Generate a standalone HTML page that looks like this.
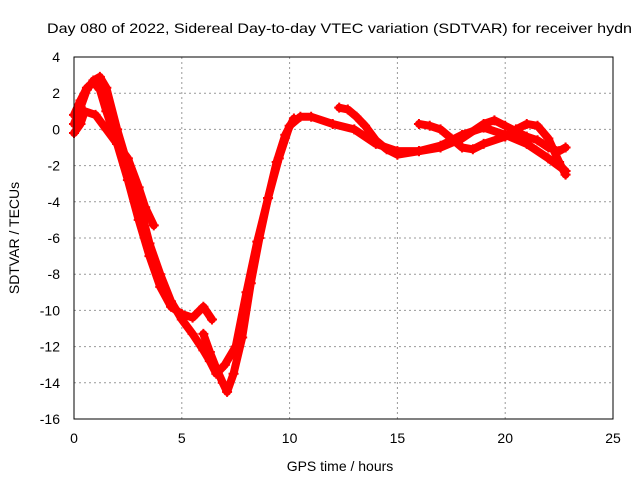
<!DOCTYPE html>
<html><head><meta charset="utf-8"><style>
body{margin:0;background:#fff}
svg{display:block;font-family:"Liberation Sans",sans-serif;font-size:14px}
</style></head><body>
<svg id="c" width="640" height="480">
<text x="47" y="33" textLength="585" lengthAdjust="spacingAndGlyphs">Day 080 of 2022, Sidereal Day-to-day VTEC variation (SDTVAR) for receiver hydn</text>
<text x="340" y="471" text-anchor="middle">GPS time / hours</text>
<text transform="translate(19,238) rotate(-90)" text-anchor="middle">SDTVAR / TECUs</text>
<g id="grid"></g><g id="ticks"></g><g id="marks"></g>
<rect x="74" y="57" width="539" height="362" fill="none" stroke="#000"/>
</svg>
<script>
const xTicks=[0,5,10,15,20,25];
const yTicks=[4,2,0,-2,-4,-6,-8,-10,-12,-14,-16];
const trackAHours=[0,0.3,0.6,0.9,1.2,1.5,2,2.5,3,3.5,4,4.5,5,5.5,6,6.3,6.6,7,7.5,8,8.5,9,9.5,10,10.5,11,12,13,14,15,16,17,18,19,20,21,22,22.8];
const trackAValues=[0.3,1.2,2.2,2.7,2.9,2.3,0,-2,-4,-6.3,-8,-9.5,-10.5,-11.3,-12.2,-12.8,-13.5,-13,-12,-9,-6.2,-3.8,-1.6,0.2,0.7,0.7,0.3,0,-0.8,-1.2,-1.2,-0.9,-0.3,0.1,-0.3,-0.8,-1.6,-2.3];
const trackBHours=[0,0.3,0.6,0.9,1.2,1.5,2,2.5,3,3.5,4,4.5,5,5.5,6,6.4];
const trackBValues=[0.8,1.6,2.3,2.6,2.2,1,-0.8,-2.8,-5,-7,-8.7,-9.8,-10.2,-10.4,-9.8,-10.5];
const trackCHours=[0,0.3,0.5,1,1.5,2,2.5,3,3.3,3.7];
const trackCValues=[-0.2,0.3,1,0.8,0,-0.8,-1.6,-3.2,-4.3,-5.3];
const trackDHours=[6,6.3,6.6,6.9,7.1,7.4,7.8,8.2,8.6,9,9.4,9.8,10.2];
const trackDValues=[-11.3,-12.3,-13.2,-14,-14.5,-13.5,-11.5,-8.5,-6,-3.8,-1.8,-0.3,0.6];
const trackEHours=[12.3,12.7,13.1,13.5,14,14.5,15,16,17,18,19,19.5,20,21,21.5,22,22.5,22.8];
const trackEValues=[1.2,1.1,0.7,0.2,-0.6,-1.1,-1.4,-1.2,-1.0,-0.5,0.3,0.5,0.2,-0.4,-0.6,-1,-1.2,-1];
const trackFHours=[16,16.5,17,17.5,18,18.5,19,20,20.5,21,21.5,22,22.5,22.8];
const trackFValues=[0.3,0.2,0,-0.5,-1,-1.1,-0.8,-0.4,0,0.3,0.2,-0.5,-1.8,-2.5];
const tracks=[[trackAHours,trackAValues],[trackBHours,trackBValues],[trackCHours,trackCValues],[trackDHours,trackDValues],[trackEHours,trackEValues],[trackFHours,trackFValues]];
const X=h=>74+h*539/25, Y=v=>57+(4-v)*362/20;
const NS="http://www.w3.org/2000/svg";
const grid=document.getElementById('grid'),ticks=document.getElementById('ticks'),marks=document.getElementById('marks');
function mk(tag,at,p){const e=document.createElementNS(NS,tag);for(const k in at)e.setAttribute(k,at[k]);p.appendChild(e);return e;}
xTicks.forEach(t=>{
 const l=mk('line',{x1:X(t),x2:X(t),y1:57,y2:419,stroke:'#999','stroke-dasharray':'2,3'},grid);
 
 
 const tx=mk('text',{x:X(t),y:443,'text-anchor':'middle'},ticks);tx.textContent=t;
 
 
});
yTicks.forEach(t=>{
 const l=mk('line',{x1:74,x2:613,y1:Y(t),y2:Y(t),stroke:'#999','stroke-dasharray':'2,3'},grid);
 
 
 const tx=mk('text',{x:60,y:Y(t)+5,'text-anchor':'end'},ticks);tx.textContent=t;
 
 
});
tracks.forEach(([hs,vs],i)=>{
 const pl=mk('polyline',{points:hs.map((h,j)=>X(h)+','+Y(vs[j])).join(' '),fill:'none',stroke:'#f00','stroke-width':8,'stroke-linejoin':'round','stroke-linecap':'round'},marks);
 
 
 hs.forEach((h,j)=>{
  const x=X(h),y=Y(vs[j]);
  const p=mk('path',{d:`M${x-5},${y}H${x+5}M${x},${y-5}V${y+5}`,stroke:'#f00','stroke-width':2},marks);
  
  
 });
});
</script>
</body></html>
